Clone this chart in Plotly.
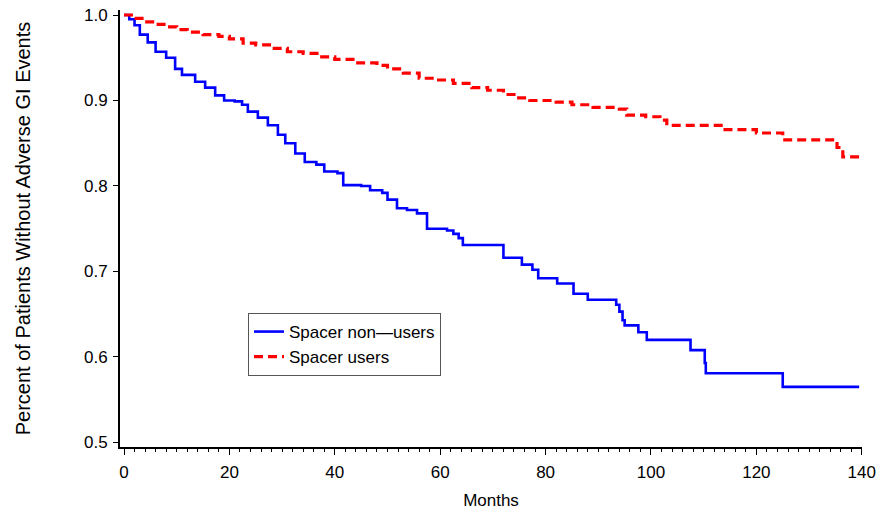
import plotly.graph_objects as go

# Kaplan-Meier step data
nonuser_months = [0, 1, 2, 3, 4.5, 6, 8, 9.7, 11, 13.5, 15.4, 17.3, 19, 21, 22.4, 23.5, 25.4,
                  27.3, 29.2, 30.6, 32.5, 34.3, 36.5, 38, 40.5, 41.6, 45, 46.7, 49, 50, 51.8,
                  53.7, 55.6, 57.5, 61.3, 62.5, 63.5, 64.3, 72, 75.5, 77.5, 78.6, 82.2, 85.3,
                  88, 93.4, 94, 94.6, 95, 97.6, 99.2, 107.5, 110.2, 110.4, 125, 139.5]
nonuser_surv = [1.0, 0.995, 0.988, 0.977, 0.968, 0.957, 0.95, 0.937, 0.93, 0.922, 0.915, 0.906,
                0.90, 0.899, 0.895, 0.887, 0.88, 0.871, 0.86, 0.85, 0.838, 0.828, 0.825, 0.817,
                0.815, 0.801, 0.80, 0.795, 0.792, 0.784, 0.774, 0.772, 0.768, 0.75, 0.748,
                0.744, 0.739, 0.731, 0.716, 0.708, 0.702, 0.692, 0.686, 0.674, 0.667, 0.661,
                0.653, 0.643, 0.637, 0.629, 0.62, 0.608, 0.593, 0.581, 0.565, 0.565]

user_months = [0, 2, 4, 6, 8, 10, 12, 15, 18, 20, 22.6, 25, 28, 31, 34, 37, 40, 44, 48, 50, 53,
               56, 59, 62.5, 66, 69, 72, 74, 77, 82, 85, 89, 94, 95.4, 99, 101.7, 103, 113.7,
               120, 125, 135.3, 136.4, 139.5]
user_surv = [1.0, 0.996, 0.992, 0.989, 0.986, 0.983, 0.98, 0.977, 0.975, 0.972, 0.967, 0.965,
             0.961, 0.957, 0.955, 0.951, 0.948, 0.944, 0.941, 0.937, 0.932, 0.926, 0.924, 0.92,
             0.915, 0.912, 0.907, 0.903, 0.900, 0.898, 0.895, 0.892, 0.89, 0.883, 0.881, 0.877,
             0.871, 0.866, 0.862, 0.854, 0.845, 0.834, 0.834]

x_ticks = [0, 20, 40, 60, 80, 100, 120, 140]
y_ticks = [0.5, 0.6, 0.7, 0.8, 0.9, 1.0]
y_tick_labels = ["0.5", "0.6", "0.7", "0.8", "0.9", "1.0"]

FONT = "Liberation Sans, Arial, sans-serif"

fig = go.Figure()
fig.add_trace(go.Scatter(x=nonuser_months, y=nonuser_surv, mode="lines", line_shape="hv",
                         name="Spacer non\u2014users",
                         line=dict(color="#0000ff", width=2.6)))
fig.add_trace(go.Scatter(x=user_months, y=user_surv, mode="lines", line_shape="hv",
                         name="Spacer users",
                         line=dict(color="#ff0000", width=3.2, dash="9px,5px")))

fig.update_layout(
    width=881, height=514,
    margin=dict(l=120, r=19, t=10, b=67, autoexpand=False),
    paper_bgcolor="white", plot_bgcolor="white",
    font=dict(family=FONT, size=17, color="black"),
    showlegend=True,
    legend=dict(x=0.1725, y=0.3066, xanchor="left", yanchor="top",
                bgcolor="white", bordercolor="#555555", borderwidth=1,
                font=dict(size=17, family=FONT), tracegroupgap=0,
                itemwidth=30),
    xaxis=dict(range=[-0.76, 140.04], tickvals=x_ticks, showgrid=False, zeroline=False,
               automargin=False,
               showline=True, linecolor="black", linewidth=1.6,
               ticks="outside", ticklen=6, tickwidth=1.2, tickcolor="black",
               ticklabelstandoff=3, tickfont=dict(size=17),
               minor=dict(dtick=2, ticks="outside", ticklen=3, tickwidth=1, tickcolor="black"),
               title=dict(text="Months", font=dict(size=17), standoff=13)),
    yaxis=dict(range=[0.4947, 1.00585], tickvals=y_ticks, ticktext=y_tick_labels,
               showgrid=False, zeroline=False, automargin=False,
               showline=True, linecolor="black", linewidth=1.8,
               ticks="outside", ticklen=5, tickwidth=1.2, tickcolor="black",
               ticklabelstandoff=2, tickfont=dict(size=17),
               title=dict(text="Percent of Patients Without Adverse GI Events",
                          font=dict(size=20), standoff=48)),
)

fig.write_html("out.html")
